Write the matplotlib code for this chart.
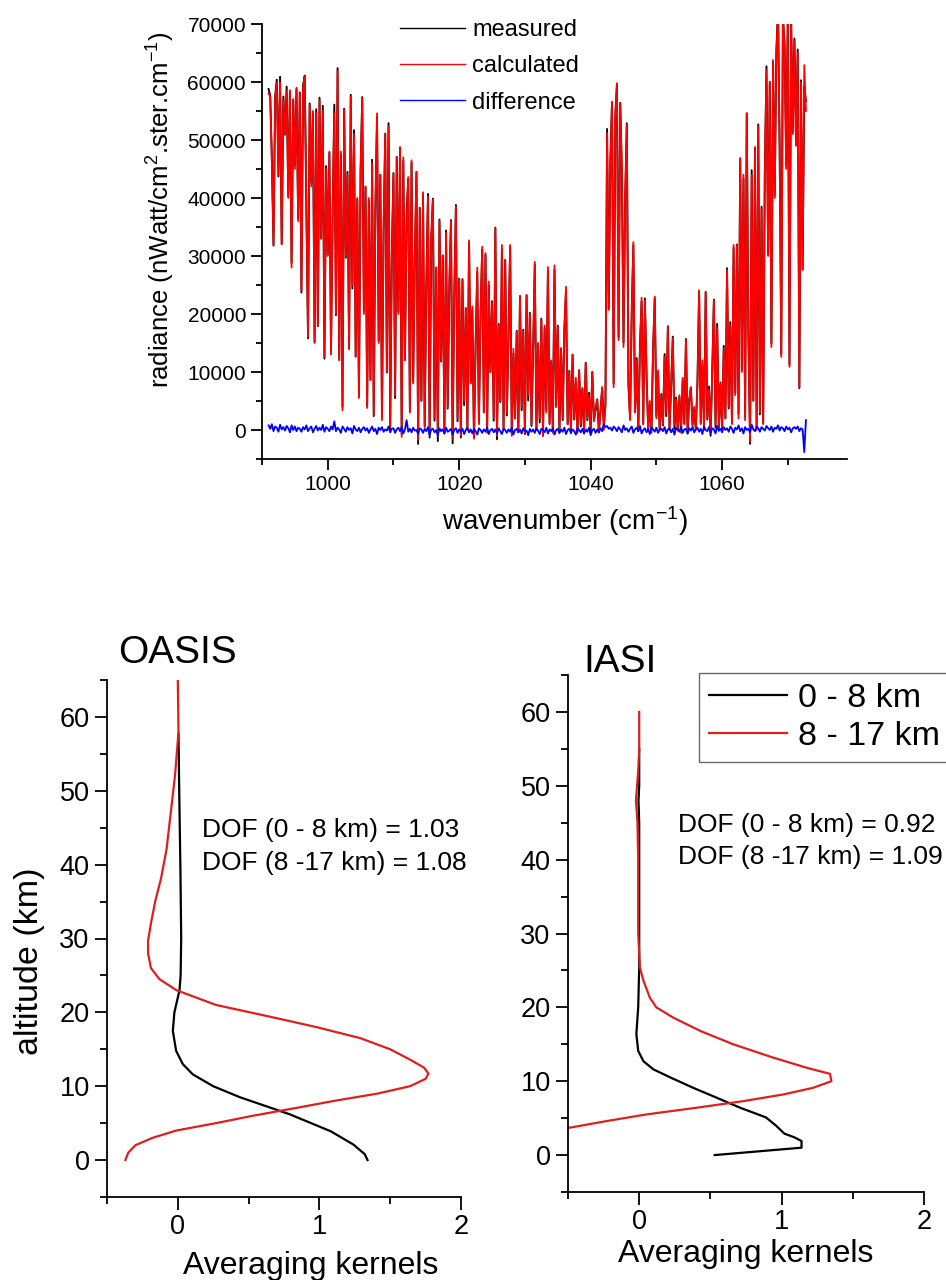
import numpy as np
import matplotlib
matplotlib.use('Agg')
import matplotlib.pyplot as plt
from matplotlib.ticker import MultipleLocator

plt.rcParams['font.family'] = ['Liberation Sans', 'DejaVu Sans']
plt.rcParams['mathtext.fontset'] = 'custom'
plt.rcParams['mathtext.rm'] = 'Liberation Sans'
plt.rcParams['mathtext.it'] = 'Liberation Sans:italic'

# ---- spectrum (values in units of 1000 nWatt/cm2.ster.cm-1), 0.25 cm-1 grid from 991
wn_start = 991.0
wn_step = 0.25
calc_k = [
    58, 57.5, 46, 32, 57, 60, 44, 60, 32, 57, 51, 58.5, 40, 58.6, 28, 57, 45, 59, 36, 58,
    24, 59, 61, 38, 16, 56, 42, 55, 15, 54.6, 18, 56.9, 33, 55, 12.6, 45, 30, 48, 13, 38,
    54.6, 20, 62, 12, 48, 3.4, 55.2, 30, 44, 14, 57.5, 25, 51, 12.6, 40, 5.5, 45, 57.2, 20, 42,
    3.8, 40, 8.6, 46, 2.6, 38, 54.6, 15, 44, 1.7, 35, 51, 10, 52.3, 0.5, 30, 44, 6, 47, 20,
    48.8, -1.2, 47, 12, 36, 43.6, 3, 46.5, 8, 30, 44.5, -1.7, 38, 5, 41, 0.5, 25, 40.2, -0.5, 33,
    39.7, 2, 28, -1, 36, 12, 30, 0, 34, 4, 25, 36, -1.5, 23, 38.5, 2, 26, -1, 25.8, 5,
    21, 0, 32.7, 8, 21.3, -1.5, 15, 28, 1, 20, 31.6, 3, 30.5, -0.5, 25.6, 10, 22, 2, 34.8, -1,
    18, 5, 31.9, 0, 29.3, 3, 16, 31.9, -1, 14, 2, 16.9, 0, 23, 4, 17, -0.5, 23.3, 6, 20,
    1, 14, 29, 0, 15, 2, 19, -1, 18, 3, 28.1, 1, 12, -0.5, 28.4, 4, 17.8, 0, 14, 2,
    17, 24.7, 1, 10, 0, 12.9, 2, 9, -0.5, 10.3, 1, 7, 0, 11.5, 2, 6, 0.5, 10, 1.5, 4,
    5.2, 0, 3, 7.4, 0, 4, 51.2, 20.7, 46, 56.6, 7.4, 54, 59.8, 15.5, 56.3, 44.8, 14.3, 40, 52.6, 8.1,
    1.7, 20, 32.4, 3, 12, 0, 13.8, 22.8, 1, 22.4, 9.8, 0, 5, -0.5, 14, 23, 2, 10.3, 0, 6,
    1, 12.6, 3, 17.8, 0, 8, 15.9, 1, 5.2, 0, 6, -0.5, 9, 1, 15.5, 0, 5, 7.4, 0.5, 4,
    0, 8, 24.1, 1, 12, 0, 23.8, 2, 7, -0.5, 10, 22.4, 1, 17.6, 0, 8, 0.5, 14, 2, 27.6,
    4, 18, 1, 31.9, 6, 31.9, 2, 46.9, 10, 44, 1.7, 54.6, 16, -2, 43.9, 5, 48.8, 0, 52.4, 3,
    38, 1, 45, 62, 30, 60, 14.3, 63.8, 40, 65, 72, 49, 12.6, 71, 66.7, 45, 72, 10.9, 71, 51,
    67, 49, 65, 7.4, 60, 27.6, 62.9, 55,
]
# measured - calculated, in units of 100
diff_h = [
    8, 2, 10, -2, 6, 4, -3, 9, 1, 5, -1, 7, 3, -4, 8, 0, 6, -2, 4, 2,
    -3, 5, 1, 8, -2, 3, 6, -4, 2, 7, -1, 4, 0, 9, -3, 5, 2, -2, 6, 1,
    15, -2, 4, 1, -5, 6, 2, -3, 5, 0, 3, -6, 7, 1, -2, 4, -4, 2, 5, -1,
    3, -5, 1, 6, -2, 2, -7, 4, 0, 5, -3, 1, -1, 6, -4, 2, 3, -5, 1, 4,
    -2, 5, -6, 1, 17, -3, 2, -4, 4, -1, 0, -7, 3, 1, -5, 2, -2, 5, -8, 1,
    2, -4, 0, -9, 3, -2, 1, -6, 4, -3, -1, 2, -8, 0, 3, -5, 1, -3, 2, -7,
    0, 4, -4, 1, -6, 2, -2, -8, 3, 0, -5, 1, -3, 4, -7, 0, 2, -4, 1, -6,
    3, -2, -7, 2, 0, -5, 1, -3, 4, -8, 0, 2, -4, 1, -6, 3, -2, -1, -9, 2,
    -3, 1, -5, 3, -1, -7, 2, 0, -4, 4, -6, 1, -2, 3, -8, 0, 2, -5, 1, -3,
    4, -7, 0, 2, -5, 1, -2, -8, 3, 0, -4, 2, -6, 1, -3, 4, -9, 0, 2, -5,
    1, -4, 3, -2, 10, 5, 7, 2, 4, -1, 6, 3, -2, 5, 1, -4, 8, 0, 3, -3,
    2, 6, -5, 1, 4, -2, 7, -6, 0, 3, -4, 2, -7, 5, 1, -3, 4, -5, 0, 2,
    -2, 5, -6, 1, 3, -4, 2, -8, 4, 0, -3, 6, -5, 1, 2, -6, 3, -1, 5, -4,
    1, 4, -3, 2, -7, 6, 0, -2, 5, -5, 3, 1, -6, 7, -1, 2, -4, 5, 0, 3,
    -3, 6, 2, -5, 4, 1, 8, -2, 3, -6, 5, 0, 2, -4, 9, 1, -2, 6, 3, -3,
    5, 2, -1, 7, 3, 0, 6, -3, 4, 2, 8, -1, 5, 3, -2, 6, 1, 4, -4, 3,
    5, 2, 6, -2, 3, 1, -38, 17,
]

# ---- averaging kernels
oasis_alt_low = [57.7, 50, 40, 30, 25, 23, 20, 17.5, 14.8, 13, 11.6, 10, 8.5, 6.2, 3.9, 2.1, 0.8, 0]
oasis_ak_low = [0.005, 0.01, 0.018, 0.024, 0.02, 0.012, -0.024, -0.035, -0.012, 0.035, 0.106, 0.25,
                0.44, 0.79, 1.08, 1.24, 1.32, 1.34]
oasis_alt_high = [65, 58, 52, 47, 42, 38, 35, 32, 29.7, 28, 26, 24.5, 23, 21, 19.5, 18, 16.5, 15,
                  13.5, 12.5, 11.7, 11, 10, 9, 8, 7, 6, 5, 4, 3, 2, 1, 0]
oasis_ak_high = [0, 0.005, -0.02, -0.05, -0.08, -0.12, -0.16, -0.19, -0.21, -0.21, -0.19, -0.13,
                 -0.01, 0.27, 0.63, 0.98, 1.29, 1.50, 1.65, 1.74, 1.77, 1.75, 1.64, 1.41, 1.10,
                 0.82, 0.53, 0.27, -0.01, -0.18, -0.30, -0.35, -0.37]

iasi_alt_low = [55, 50, 48, 45, 40, 30, 25.4, 20, 16.4, 14.1, 12.7, 11.6, 10.5, 9.1, 7.8, 6.4,
                5.1, 4.0, 2.9, 2.4, 1.9, 1.0, 0]
iasi_ak_low = [0, 0, -0.005, 0, 0, 0, 0, -0.007, -0.02, -0.007, 0.03, 0.1, 0.22, 0.38, 0.54,
               0.71, 0.89, 0.96, 1.02, 1.09, 1.14, 1.14, 0.53]
iasi_alt_high = [60, 55, 52, 48, 45, 40, 30, 25.4, 23.6, 21.3, 20, 18.6, 16.8, 15, 13.2, 11.8,
                 11, 10, 9.1, 8.2, 7.3, 6.4, 5.5, 4.6, 3.7, 3.0]
iasi_ak_high = [0, 0, -0.007, -0.023, -0.012, -0.007, -0.007, 0.005, 0.03, 0.075, 0.12, 0.24,
                0.43, 0.66, 0.94, 1.18, 1.34, 1.35, 1.22, 1.01, 0.73, 0.40, 0.05, -0.23, -0.49,
                -0.68]

RED = '#dd1f1f'
W, H = 946, 1280


def style_axes(ax, labelsize, major, minor):
    ax.spines['top'].set_visible(False)
    ax.spines['right'].set_visible(False)
    for s in ('left', 'bottom'):
        ax.spines[s].set_linewidth(1.3)
    ax.tick_params(which='both', direction='out', width=1.3, labelsize=labelsize)
    ax.tick_params(which='major', length=major)
    ax.tick_params(which='minor', length=minor)


fig = plt.figure(figsize=(W / 100, H / 100), dpi=100)

# Graph 1 : spectrum
calculated = np.array(calc_k) * 1000.0
difference = np.array(diff_h) * 100.0
measured = calculated + difference
wn = wn_start + wn_step * np.arange(len(calculated))

ax = fig.add_axes([262 / W, 1 - 459 / H, 585 / W, 435 / H])
ax.plot(wn, measured, color='black', lw=1.35, label='measured')
ax.plot(wn, calculated, color='red', lw=1.3, label='calculated')
ax.plot(wn, difference, color='blue', lw=1.3, label='difference')
ax.set_xlim(990, 1079)
ax.set_ylim(-5000, 70000)
ax.xaxis.set_major_locator(MultipleLocator(20))
ax.xaxis.set_minor_locator(MultipleLocator(10))
ax.yaxis.set_major_locator(MultipleLocator(10000))
ax.yaxis.set_minor_locator(MultipleLocator(5000))
style_axes(ax, 15, 8, 4)
ax.set_ylabel('radiance (nWatt/cm$^{2}$.ster.cm$^{-1}$)', fontsize=18.5)
ax.yaxis.set_label_coords(-0.145, 0.572)
ax.set_xlabel('wavenumber (cm$^{-1}$)', fontsize=20)
ax.xaxis.set_label_coords(0.518, -0.105)
leg1 = ax.legend(loc='upper left', bbox_to_anchor=(0.236, 1.011), frameon=False, fontsize=17,
                 handlelength=2.75, handletextpad=0.3, labelspacing=0.6, borderpad=0,
                 borderaxespad=0)
for h in leg1.get_lines():
    h.set_linewidth(1.0)

# Graph 2 : OASIS averaging kernels
ax2 = fig.add_axes([107 / W, 1 - 1197 / H, 354 / W, 517 / H])
l1, = ax2.plot(oasis_ak_low, oasis_alt_low, color='black', lw=1.6)
l2, = ax2.plot(oasis_ak_high, oasis_alt_high, color=RED, lw=1.6)
ax2.text(0.17, 44.7, 'DOF (0 - 8 km) = 1.03', fontsize=19, va='center')
ax2.text(0.17, 40.2, 'DOF (8 -17 km) = 1.08', fontsize=19, va='center')
ax2.set_ylabel('altitude (km)', fontsize=24.5)
ax2.yaxis.set_label_coords(-0.175, 0.456)

# Graph 3 : IASI averaging kernels
ax3 = fig.add_axes([568 / W, 1 - 1192 / H, 356 / W, 517 / H])
ax3.plot(iasi_ak_low, iasi_alt_low, color='black', lw=1.6)
ax3.plot(iasi_ak_high, iasi_alt_high, color=RED, lw=1.6)
ax3.text(0.27, 44.7, 'DOF (0 - 8 km) = 0.92', fontsize=19, va='center')
ax3.text(0.27, 40.3, 'DOF (8 -17 km) = 1.09', fontsize=19, va='center')

for a in (ax2, ax3):
    a.set_xlim(-0.5, 2)
    a.set_ylim(-5, 65)
    a.xaxis.set_major_locator(MultipleLocator(1))
    a.xaxis.set_minor_locator(MultipleLocator(0.5))
    a.yaxis.set_major_locator(MultipleLocator(10))
    a.yaxis.set_minor_locator(MultipleLocator(5))
    style_axes(a, 19.5, 9, 5)
    a.set_xlabel('Averaging kernels', fontsize=23)
ax2.xaxis.set_label_coords(0.576, -0.104)
ax3.xaxis.set_label_coords(0.5, -0.09)

fig.text(177 / W, 1 - 653 / H, 'OASIS', fontsize=28, ha='center', va='center')
fig.text(620 / W, 1 - 662 / H, 'IASI', fontsize=28, ha='center', va='center')

leg = fig.legend([l1, l2], ['0 - 8 km', '8 - 17 km'], loc='upper left',
                 bbox_to_anchor=(699 / W, 1 - 673 / H), fontsize=24.5, fancybox=False,
                 handlelength=2.3, handletextpad=0.3, labelspacing=0.2, borderpad=0.3,
                 borderaxespad=0)
leg.get_frame().set_edgecolor('#444444')
leg.get_frame().set_linewidth(1.0)

fig.savefig('out.png', dpi=100)
